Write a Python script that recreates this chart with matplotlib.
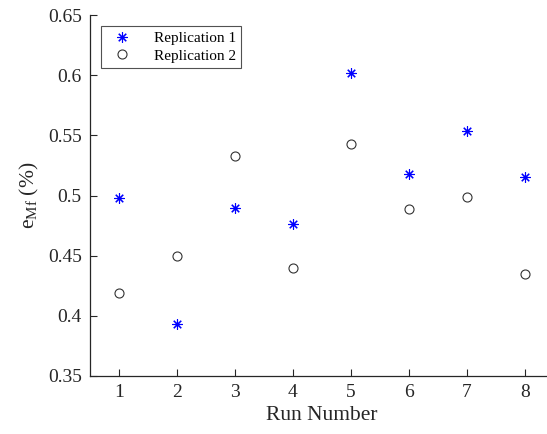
import matplotlib
matplotlib.use("Agg")
import matplotlib.pyplot as plt

plt.rcParams['font.family'] = ['Liberation Serif', 'DejaVu Serif']
plt.rcParams['mathtext.fontset'] = 'custom'
plt.rcParams['mathtext.rm'] = 'Liberation Serif'
plt.rcParams['mathtext.it'] = 'Liberation Serif:italic'

runs = [1, 2, 3, 4, 5, 6, 7, 8]
rep1 = [0.498, 0.393, 0.490, 0.476, 0.602, 0.518, 0.554, 0.515]
rep2 = [0.419, 0.450, 0.533, 0.440, 0.543, 0.489, 0.499, 0.435]
yticks = [0.35, 0.4, 0.45, 0.5, 0.55, 0.6, 0.65]
yticklabels = ['0.35', '0.4', '0.45', '0.5', '0.55', '0.6', '0.65']

fig = plt.figure(figsize=(5.47, 4.34), dpi=100)
ax = fig.add_axes([90/547, 58/434, 464/547, 361/434])

ax.plot(runs, rep1, linestyle='none', marker=(8, 2, 0), markersize=7.5,
        markeredgecolor='#0000ff', markerfacecolor='#0000ff', markeredgewidth=0.8,
        label='Replication 1')
ax.plot(runs, rep2, linestyle='none', marker='o', markersize=6.5,
        markeredgecolor='#333333', markerfacecolor='none', markeredgewidth=0.8,
        label='Replication 2')

ax.set_xlim(0.5, 8.5)
ax.set_ylim(0.35, 0.65)
ax.set_xticks(runs)
ax.set_yticks(yticks)
ax.set_yticklabels(yticklabels)
ax.tick_params(direction='in', length=5, width=0.8, labelsize=14, colors='#262626', pad=6)
for s in ['top', 'right']:
    ax.spines[s].set_visible(False)
for s in ['left', 'bottom']:
    ax.spines[s].set_color('#262626')
    ax.spines[s].set_linewidth(0.9)

ax.set_xlabel('Run Number', fontsize=15.5, color='#262626', labelpad=3)
ax.set_ylabel(r'$\mathrm{e_{Mf}}$ (%)', fontsize=15.5, color='#262626', labelpad=5)

leg = ax.legend(loc='upper left', bbox_to_anchor=(11/464, 350/361), borderaxespad=0,
                fontsize=11, frameon=True, fancybox=False, edgecolor='#262626',
                handletextpad=1.1, borderpad=0.35, labelspacing=0.25, handlelength=2.0)
leg.get_frame().set_linewidth(0.8)

fig.savefig('out.png', dpi=100)
